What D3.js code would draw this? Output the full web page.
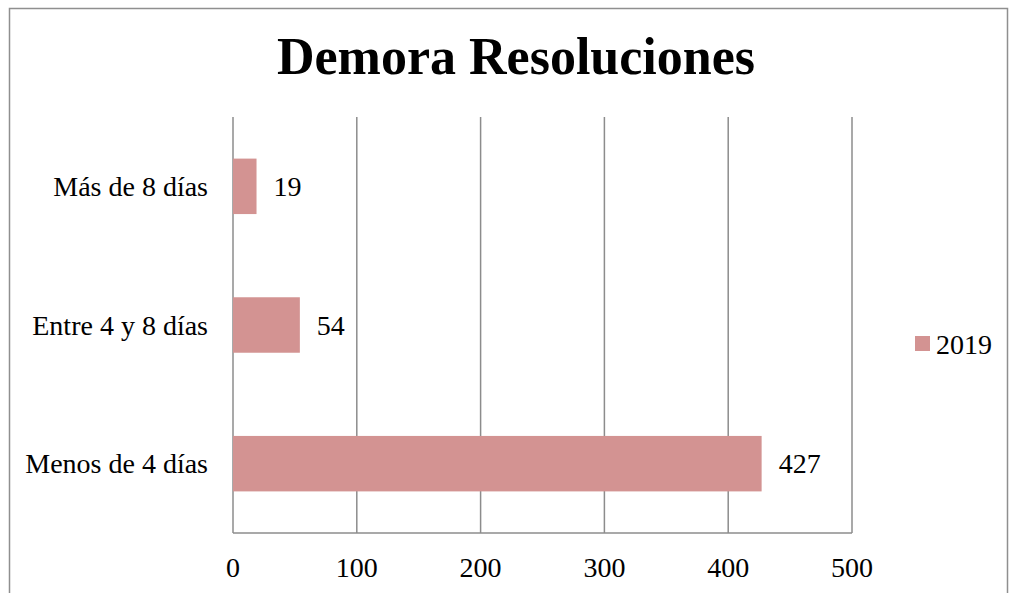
<!DOCTYPE html>
<html>
<head>
<meta charset="utf-8">
<script src="https://cdn.jsdelivr.net/npm/d3@7"></script>
<style>
    body { margin: 0; background: #fff; }
    text { font-family: "Liberation Serif", "DejaVu Serif", serif; fill: #000; }
</style>
</head>
<body>
<svg id="chart" width="1010" height="593"></svg>
<script>
// chart data
const categories = ["Más de 8 días", "Entre 4 y 8 días", "Menos de 4 días"];
const values = [19, 54, 427];
const seriesName = "2019";
const xTicks = [0, 100, 200, 300, 400, 500];

const svg = d3.select("#chart");
const barColor = "#d39392";
const gridColor = "#8c8c8c";

// outer frame
svg.append("rect")
    .attr("x", 9.5)
    .attr("y", 8.5)
    .attr("width", 998)
    .attr("height", 600)
    .attr("fill", "none")
    .attr("stroke", "#8f8f8f")
    .attr("stroke-width", 1.5);

svg.append("text")
    .attr("x", 516)
    .attr("y", 74)
    .attr("text-anchor", "middle")
    .style("font-size", "52px")
    .style("font-weight", "bold")
    .text("Demora Resoluciones");

const plot = { left: 233, right: 852, top: 117, bottom: 533 };

const x = d3.scaleLinear().domain([0, 500]).range([plot.left, plot.right]);
const y = d3.scaleBand()
    .domain(categories)
    .range([plot.top, plot.bottom])
    .paddingInner(0.6)
    .paddingOuter(0.3);

// vertical gridlines
svg.append("g")
    .selectAll("line")
    .data(xTicks)
    .join("line")
    .attr("x1", d => x(d))
    .attr("x2", d => x(d))
    .attr("y1", plot.top)
    .attr("y2", plot.bottom)
    .attr("stroke", gridColor)
    .attr("stroke-width", 1.5);

// bottom axis line
svg.append("line")
    .attr("x1", plot.left)
    .attr("x2", plot.right)
    .attr("y1", plot.bottom)
    .attr("y2", plot.bottom)
    .attr("stroke", gridColor)
    .attr("stroke-width", 1.5);

// tick labels
svg.append("g")
    .selectAll("text")
    .data(xTicks)
    .join("text")
    .attr("x", d => x(d))
    .attr("y", 577)
    .attr("text-anchor", "middle")
    .style("font-size", "28px")
    .text(d => d);

// bars
svg.append("g")
    .selectAll("rect")
    .data(values)
    .join("rect")
    .attr("x", x(0))
    .attr("y", (d, i) => y(categories[i]))
    .attr("width", d => x(d) - x(0))
    .attr("height", y.bandwidth())
    .attr("fill", barColor);

// value labels
svg.append("g")
    .selectAll("text")
    .data(values)
    .join("text")
    .attr("x", d => x(d) + 17)
    .attr("y", (d, i) => y(categories[i]) + y.bandwidth() / 2)
    .attr("dy", "0.35em")
    .style("font-size", "28px")
    .text(d => d);

// category labels
svg.append("g")
    .selectAll("text")
    .data(categories)
    .join("text")
    .attr("x", 208)
    .attr("y", d => y(d) + y.bandwidth() / 2)
    .attr("dy", "0.35em")
    .attr("text-anchor", "end")
    .style("font-size", "28px")
    .text(d => d);

// legend
const legend = svg.append("g").attr("transform", "translate(915,336)");
legend.append("rect")
    .attr("width", 15)
    .attr("height", 15)
    .attr("fill", barColor);
legend.append("text")
    .attr("x", 21)
    .attr("y", 8)
    .attr("dy", "0.35em")
    .style("font-size", "28px")
    .text(seriesName);
</script>
</body>
</html>
